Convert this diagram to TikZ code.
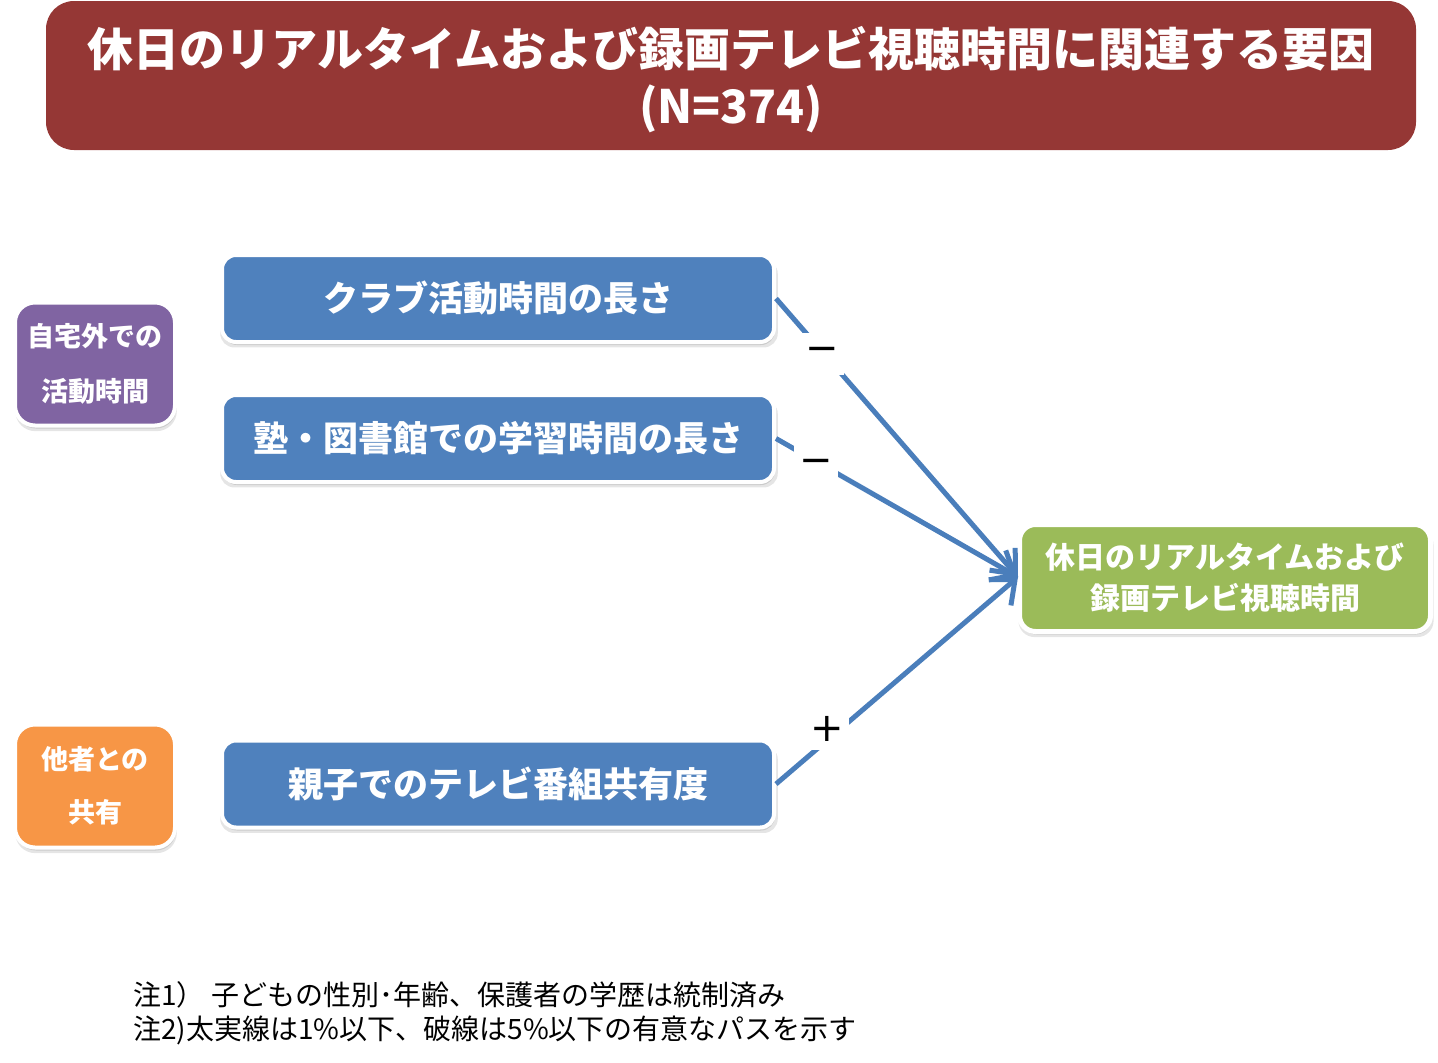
\documentclass[tikz,border=0pt]{standalone}
\usepackage{fontspec}
\setmainfont{Noto Sans CJK JP}
\newfontfamily\symf{DejaVu Sans}
\usetikzlibrary{arrows.meta,shadows}
\definecolor{titlered}{HTML}{953735}
\definecolor{boxblue}{HTML}{4F81BD}
\definecolor{boxpurple}{HTML}{8064A2}
\definecolor{boxorange}{HTML}{F79646}
\definecolor{boxgreen}{HTML}{9BBB59}
\definecolor{linkblue}{HTML}{4A7EBB}
\tikzset{
  softshadow/.style={
    drop shadow={shadow xshift=1pt,shadow yshift=-5pt,shadow scale=1.01,fill=black!40,opacity=0.25},
    drop shadow={shadow xshift=1pt,shadow yshift=-3pt,fill=black!40,opacity=0.35}},
  factorbox/.style={draw=white,line width=4pt,rounded corners=14pt,fill=boxblue,text=white,
    font=\bfseries\fontsize{35}{42}\selectfont,minimum width=552pt,minimum height=87pt,inner sep=0pt,softshadow},
  groupbox/.style={draw=white,line width=4pt,rounded corners=20pt,text=white,align=center,
    minimum width=160pt,minimum height=123pt,inner sep=0pt,softshadow},
  outbox/.style={draw=white,line width=5pt,rounded corners=16pt,fill=boxgreen,text=white,align=center,
    font=\bfseries\fontsize{30}{41}\selectfont,minimum width=411pt,minimum height=107pt,inner sep=0pt,softshadow},
  link/.style={draw=linkblue,line width=5pt,-{Straight Barb[length=20pt,width=34pt,line width=5pt]}},
  signlbl/.style={fill=white,inner sep=0pt,minimum width=44pt,minimum height=42pt,text=black,
    font=\symf\fontsize{40}{40}\selectfont},
  notetext/.style={anchor=west,inner sep=0pt,font=\fontsize{28}{35}\selectfont,text=black}
}
\begin{document}
\begin{tikzpicture}[x=1pt,y=-1pt]
\useasboundingbox (0,0) rectangle (1438,1063);
% title
\node[fill=titlered,rounded corners=28pt,minimum width=1370pt,minimum height=149pt,inner sep=0pt] (title) at (731,75.5) {};
\node[text=white,align=center,inner sep=0pt,font=\bfseries\fontsize{46}{57}\selectfont] (titletext) at (731,80)
  {休日のリアルタイムおよび録画テレビ視聴時間に関連する要因\\(N=374)};
% group boxes
\node[groupbox,fill=boxpurple,font=\bfseries\fontsize{27}{55}\selectfont] (grpA) at (95,364) {自宅外での\\活動時間};
\node[groupbox,fill=boxorange,font=\bfseries\fontsize{27}{53}\selectfont] (grpB) at (95,786) {他者との\\共有};
% factor boxes
\node[factorbox] (club) at (498,298.5) {クラブ活動時間の長さ};
\node[factorbox] (study) at (498,438.5) {塾・図書館での学習時間の長さ};
\node[factorbox] (share) at (498,784) {親子でのテレビ番組共有度};
% outcome
\node[outbox] (tv) at (1225,578) {休日のリアルタイムおよび\\録画テレビ視聴時間};
% connectors
\coordinate (tip) at (1018,577);
\draw[link] (club.east) -- node[signlbl,pos=0.19,yshift=-3pt] (s1) {−} (tip);
\draw[link] (study.east) -- node[signlbl,pos=0.165,yshift=-5pt] (s2) {−} (tip);
\draw[link] (share.east) -- node[signlbl,pos=0.21,yshift=12pt] (s3) {+} (tip);
% notes
\node[notetext] (n1) at (133,995) {注1） 子どもの性別･年齢、保護者の学歴は統制済み};
\node[notetext] (n2) at (133,1030) {注2)太実線は1\%以下、破線は5\%以下の有意なパスを示す};
\end{tikzpicture}
\end{document}
